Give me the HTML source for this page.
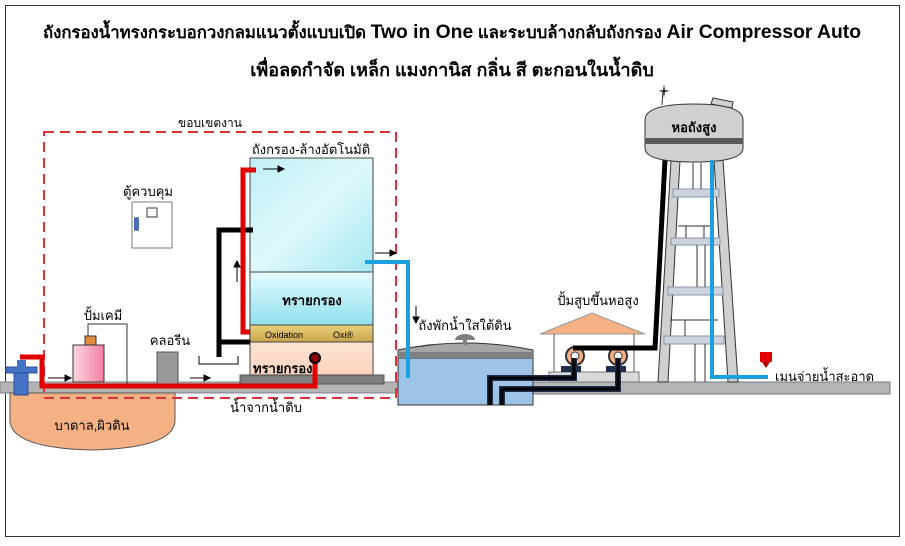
<!DOCTYPE html>
<html><head><meta charset="utf-8"><style>
html,body{margin:0;padding:0;background:#fff}
svg{display:block}
text{font-family:"Liberation Sans","Noto Sans CJK SC",sans-serif;fill:#000}
</style></head><body>
<svg width="905" height="546" viewBox="0 0 905 546" xmlns="http://www.w3.org/2000/svg">
<defs>
<linearGradient id="top" x1="0" y1="0" x2="1" y2="1"><stop offset="0" stop-color="#bff0f6"/><stop offset="0.5" stop-color="#dff8fb"/><stop offset="1" stop-color="#a6e8f2"/></linearGradient>
<linearGradient id="sand" x1="0" y1="0" x2="0" y2="1"><stop offset="0" stop-color="#e6fafd"/><stop offset="1" stop-color="#8fe0ee"/></linearGradient>
<linearGradient id="oxi" x1="0" y1="0" x2="0" y2="1"><stop offset="0" stop-color="#e9cf7c"/><stop offset="1" stop-color="#c9a54a"/></linearGradient>
<linearGradient id="peach" x1="0" y1="0" x2="0" y2="1"><stop offset="0" stop-color="#fde4d4"/><stop offset="1" stop-color="#fbd3bd"/></linearGradient>
<linearGradient id="pink" x1="0" y1="0" x2="1" y2="0"><stop offset="0" stop-color="#fcd5e0"/><stop offset="1" stop-color="#f27fa3"/></linearGradient>
</defs>
<rect x="5.5" y="5.5" width="894" height="531" fill="#fff" stroke="#333" stroke-width="1"/>
<text x="452" y="38" font-size="16.5" font-weight="bold" text-anchor="middle" textLength="818" lengthAdjust="spacingAndGlyphs">ถังกรองน้ำทรงกระบอกวงกลมแนวตั้งแบบเปิด <tspan font-size="19">Two in One</tspan> และระบบล้างกลับถังกรอง <tspan font-size="19">Air Compressor Auto</tspan></text>
<text x="452" y="76" font-size="18" font-weight="bold" text-anchor="middle">เพื่อลดกำจัด เหล็ก แมงกานิส กลิ่น สี ตะกอนในน้ำดิบ</text>

<rect x="0" y="382" width="400" height="11" fill="#b4b4b4" stroke="#7a8090" stroke-width="1"/>
<rect x="533" y="382" width="357" height="12" fill="#b4b4b4" stroke="#6f7790" stroke-width="1"/>
<path d="M10,393 L175,393 L175,420 Q175,448 92,450 Q10,448 10,420 Z" fill="#f4b183" stroke="#555" stroke-width="1"/>
<text x="92" y="430" font-size="13" text-anchor="middle">บาดาล,ผิวดิน</text>
<rect x="14" y="368" width="14" height="27" fill="#4472c4" stroke="#2f4f8f"/>
<rect x="6" y="367" width="31" height="6" fill="#4472c4" stroke="#2f4f8f"/>
<rect x="17" y="360" width="9" height="8" fill="#4472c4"/>

<rect x="44" y="132" width="352" height="266" fill="none" stroke="#e0303a" stroke-width="2" stroke-dasharray="10,6"/>
<text x="210" y="127" font-size="12" text-anchor="middle">ขอบเขตงาน</text>

<rect x="132" y="202" width="40" height="46" fill="#fff" stroke="#777"/>
<rect x="147" y="208" width="10" height="9" fill="#fff" stroke="#333"/>
<rect x="134" y="217" width="5" height="14" rx="2" fill="#4a6fb0"/>
<text x="148" y="196" font-size="13" text-anchor="middle">ตู้ควบคุม</text>

<polyline points="88,336 88,324 127,324 127,384" fill="none" stroke="#333" stroke-width="1"/>
<rect x="73" y="345" width="31" height="37" fill="url(#pink)" stroke="#333"/>
<rect x="85" y="336" width="11" height="9" fill="#e08a3c" stroke="#333"/>
<text x="103" y="320" font-size="13" text-anchor="middle">ปั้มเคมี</text>
<rect x="157" y="352" width="21" height="33" fill="#999" stroke="#555"/>
<text x="170" y="345" font-size="13" text-anchor="middle">คลอรีน</text>

<rect x="240" y="375" width="144" height="9" fill="#7f7f7f" stroke="#555"/>
<rect x="250" y="158" width="123" height="114" fill="url(#top)" stroke="#444"/>
<rect x="250" y="272" width="123" height="53" fill="url(#sand)" stroke="#444"/>
<rect x="250" y="325" width="123" height="17" fill="url(#oxi)" stroke="#444"/>
<rect x="250" y="342" width="123" height="33" fill="url(#peach)" stroke="#444"/>
<text x="312" y="305" font-size="13" font-weight="bold" text-anchor="middle">ทรายกรอง</text>
<text x="265" y="338" font-size="9">Oxidation</text>
<text x="333" y="338" font-size="9">Oxi®</text>
<text x="253" y="373" font-size="13" font-weight="bold">ทรายกรอง</text>
<text x="311" y="154" font-size="13" text-anchor="middle">ถังกรอง-ล้างอัตโนมัติ</text>
<polyline points="253,230 219,230 219,357" fill="none" stroke="#000" stroke-width="5"/>
<line x1="219" y1="342" x2="250" y2="342" stroke="#000" stroke-width="5"/>
<polyline points="199,356 199,364 238,364 238,356" fill="none" stroke="#000" stroke-width="1"/>
<polyline points="20,357 42,357 42,386 315,386 315,360" fill="none" stroke="#e00000" stroke-width="5"/>
<polyline points="256,170 243,170 243,332 250,332" fill="none" stroke="#e00000" stroke-width="5"/>
<circle cx="315" cy="358" r="5" fill="#800" stroke="#000" stroke-width="2"/>
<g stroke="#000" stroke-width="1" fill="#000">
<line x1="48" y1="378" x2="66" y2="378"/><path d="M71,378 L65,375 L65,381Z"/>
<line x1="190" y1="378" x2="205" y2="378"/><path d="M210,378 L204,375 L204,381Z"/>
<line x1="263" y1="169" x2="279" y2="169"/><path d="M284,169 L278,166 L278,172Z"/>
<line x1="237" y1="282" x2="237" y2="266"/><path d="M237,261 L234,267 L240,267Z"/>
<line x1="375" y1="253" x2="391" y2="253"/><path d="M396,253 L390,250 L390,256Z"/>
<line x1="416" y1="306" x2="416" y2="318"/><path d="M416,323 L413,317 L419,317Z"/>
</g>
<text x="266" y="412" font-size="13" text-anchor="middle">น้ำจากน้ำดิบ</text>
<polyline points="365,262 408,262 408,378" fill="none" stroke="#1ba1e2" stroke-width="4"/>

<rect x="398" y="358" width="135" height="47" fill="#9dc3e6" stroke="#333"/>
<path d="M398,358 L398,350 Q465,336 533,350 L533,358 Z" fill="#a6a6a6" stroke="#333"/>
<rect x="398" y="352" width="135" height="6" fill="#7f7f7f"/>
<path d="M455,340 a10,6 0 0,1 20,0 Z" fill="#7f7f7f"/><rect x="463" y="338" width="4" height="7" fill="#7f7f7f"/>
<line x1="408" y1="340" x2="408" y2="378" stroke="#1ba1e2" stroke-width="4"/>
<text x="465" y="330" font-size="13" text-anchor="middle">ถังพักน้ำใสใต้ดิน</text>
<path d="M540,334 L592,313 L645,334 Z" fill="#f4b183" stroke="#999"/>
<line x1="554" y1="334" x2="554" y2="372" stroke="#555"/><line x1="634" y1="334" x2="634" y2="372" stroke="#555"/>
<rect x="549" y="372" width="90" height="10" fill="#d9d9d9" stroke="#777"/>
<rect x="561" y="366" width="20" height="6" fill="#1f2d4a"/><rect x="606" y="366" width="20" height="6" fill="#1f2d4a"/>
<circle cx="575" cy="356" r="9" fill="#f4b183" stroke="#333" stroke-width="2"/><circle cx="575" cy="356" r="4" fill="#fff" stroke="#333"/>
<circle cx="618" cy="356" r="9" fill="#f4b183" stroke="#333" stroke-width="2"/><circle cx="618" cy="356" r="4" fill="#fff" stroke="#333"/>
<text x="598" y="305" font-size="13" text-anchor="middle">ปั้มสูบขึ้นหอสูง</text>
<g fill="none" stroke="#1f2d4a" stroke-width="6">
<polyline points="574,358 574,378 490,378 490,405"/><polyline points="618,358 618,389 502,389 502,405"/>
</g>
<g fill="none" stroke="#000" stroke-width="3">
<polyline points="574,358 574,378 490,378 490,405"/><polyline points="618,358 618,389 502,389 502,405"/>
</g>
<polyline points="573,348 655,348 665,160" fill="none" stroke="#000" stroke-width="5"/>

<path d="M671,160 L680,160 L668,382 L658,382 Z" fill="#d0d0d0" stroke="#333"/>
<path d="M714,160 L723,160 L738,382 L728,382 Z" fill="#d0d0d0" stroke="#333"/>
<g fill="#cdd3dc" stroke="#8894a8">
<rect x="673" y="189" width="46" height="8"/><rect x="671" y="238" width="49" height="7"/><rect x="668" y="287" width="55" height="8"/><rect x="664" y="336" width="60" height="8"/>
</g>
<g stroke="#333" stroke-width="1">
<line x1="693" y1="163" x2="693" y2="189"/><line x1="701" y1="163" x2="701" y2="189"/>
<line x1="678" y1="226" x2="712" y2="226"/><line x1="686" y1="226" x2="686" y2="238"/><line x1="704" y1="226" x2="704" y2="238"/>
<line x1="697" y1="245" x2="697" y2="287"/><line x1="705" y1="245" x2="705" y2="287"/>
<line x1="670" y1="320" x2="718" y2="320"/><line x1="685" y1="320" x2="685" y2="336"/>
<line x1="695" y1="344" x2="695" y2="382"/><line x1="705" y1="344" x2="705" y2="382"/>
</g>
<path d="M645,120 Q645,104 694,104 Q743,104 743,120 L743,148 Q743,162 694,162 Q645,162 645,148 Z" fill="#d0d0d0" stroke="#333"/>
<rect x="645" y="138" width="98" height="6" fill="#595959"/>
<path d="M711,104 l2,-6 l20,4 l-1,6 Z" fill="#d0d0d0" stroke="#333"/>
<line x1="662" y1="105" x2="663" y2="90" stroke="#333"/>
<path d="M664,84 L665,90 L670,91 L665,92 L664,98 L663,92 L658,91 L663,90Z" fill="#333"/>
<text x="694" y="132" font-size="13" font-weight="bold" text-anchor="middle">หอถังสูง</text>
<polyline points="712,160 712,377 768,377" fill="none" stroke="#1ba1e2" stroke-width="4"/>
<rect x="760" y="352" width="12" height="10" fill="#e00000"/><path d="M762,362 L770,362 L766,368Z" fill="#a00"/>
<text x="775" y="381" font-size="13">เมนจ่ายน้ำสะอาด</text>
</svg>
</body></html>
